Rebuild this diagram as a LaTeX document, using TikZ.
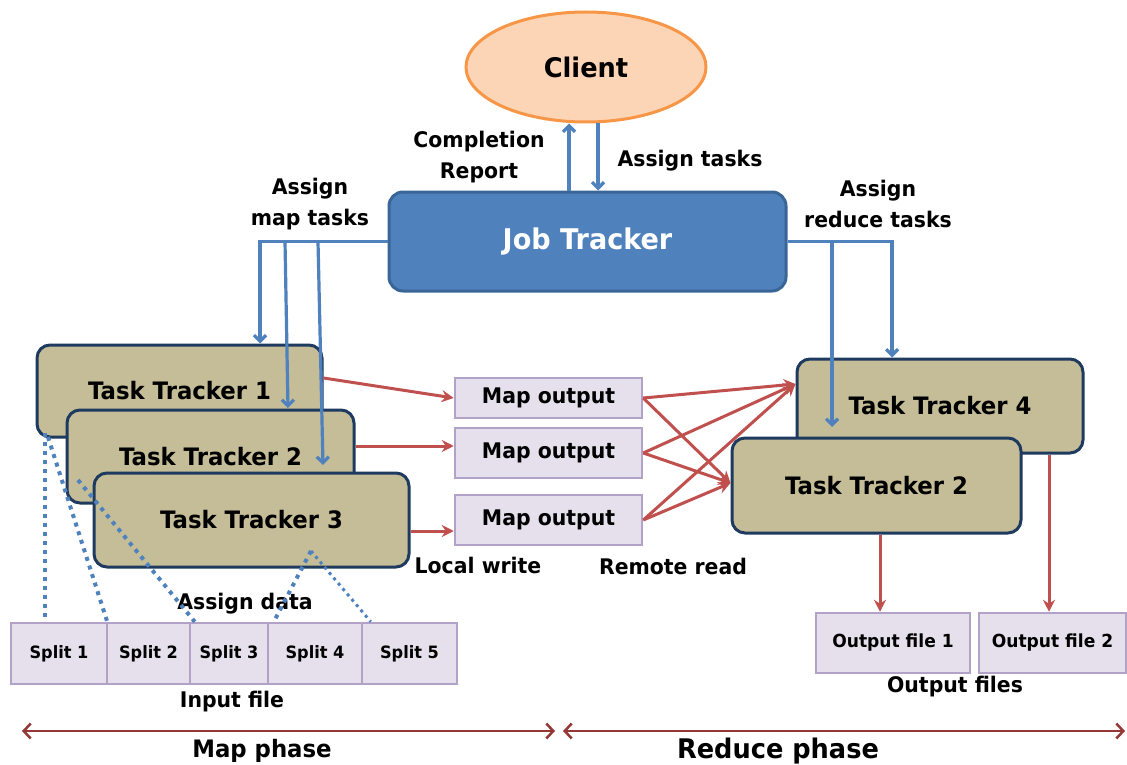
\documentclass[tikz,border=0pt]{standalone}
\usepackage{fontspec}
\setmainfont{DejaVu Sans}[FakeStretch=0.95]
\usetikzlibrary{arrows.meta,shapes.geometric}
\definecolor{cblue}{HTML}{4F81BD}
\definecolor{jtborder}{HTML}{3A6597}
\definecolor{ttfill}{HTML}{C4BD97}
\definecolor{ttborder}{HTML}{1F3A5F}
\definecolor{mofill}{HTML}{E6E0EC}
\definecolor{moborder}{HTML}{B3A2C7}
\definecolor{cred}{HTML}{C0504D}
\definecolor{phred}{HTML}{953735}
\definecolor{clfill}{HTML}{FBD5B5}
\definecolor{clborder}{HTML}{F79646}
\tikzset{
  lbl/.style={font=\bfseries\fontsize{21.5}{31}\selectfont, align=center, inner sep=0pt},
  client/.style={ellipse, draw=clborder, fill=clfill, line width=3pt, minimum width=240pt, minimum height=110pt, inner sep=0pt, font=\bfseries\fontsize{27}{30}\selectfont},
  jtbox/.style={draw=jtborder, fill=cblue, line width=3pt, rounded corners=14pt, minimum width=397pt, minimum height=99pt, inner sep=0pt, text=white, font=\bfseries\fontsize{28.5}{30}\selectfont},
  ttbox/.style={draw=ttborder, fill=ttfill, line width=3pt, rounded corners=13pt, inner sep=0pt, font=\bfseries\fontsize{24}{26}\selectfont},
  mobox/.style={draw=moborder, fill=mofill, line width=2.5pt, inner sep=0pt, minimum width=187pt, font=\bfseries\fontsize{21.5}{26}\selectfont},
  splitbox/.style={draw=moborder, fill=mofill, line width=2.5pt, inner sep=0pt, minimum height=61pt, font=\bfseries\fontsize{17}{20}\selectfont},
  outbox/.style={draw=moborder, fill=mofill, line width=2.5pt, inner sep=0pt, minimum height=60pt, font=\bfseries\fontsize{18}{20}\selectfont},
  barrow/.style={draw=cblue, line width=3.2pt, -{Straight Barb[length=6pt,width=12pt]}},
  rarrow/.style={draw=cred, line width=3pt, -{Stealth[length=12pt,width=12pt,inset=4pt]}},
  dotl/.style={draw=cblue, line width=4pt, dash pattern=on 4pt off 5pt},
  dotthin/.style={draw=cblue, line width=3pt, dash pattern=on 3pt off 4pt},
  phase/.style={draw=phred, line width=2.5pt, {Straight Barb[length=7pt,width=15pt]}-{Straight Barb[length=7pt,width=15pt]}}
}
\begin{document}
\begin{tikzpicture}[x=1pt,y=-1pt]
\useasboundingbox (0,0) rectangle (1127,765);

% main nodes
\node[client] (client) at (586,67) {Client};
\node[jtbox] (jt) at (587.5,241.5) {Job Tracker};

\node[ttbox, minimum width=285pt, minimum height=92pt] (tt1) at (179.5,391) {Task Tracker 1};
\node[ttbox, minimum width=287pt, minimum height=93pt] (tt2) at (210.5,456.5) {Task Tracker 2};
\node[ttbox, minimum width=315pt, minimum height=94pt] (tt3) at (251.5,520) {Task Tracker 3};
\node[ttbox, minimum width=286pt, minimum height=94pt] (tt4) at (940,406) {Task Tracker 4};
\node[ttbox, minimum width=289pt, minimum height=95pt] (tt2r) at (876.5,485.5) {Task Tracker 2};

\node[mobox, minimum height=40pt] (mo1) at (548.5,398) {Map output};
\node[mobox, minimum height=50pt] (mo2) at (548.5,453) {Map output};
\node[mobox, minimum height=50pt] (mo3) at (548.5,520) {Map output};

\node[splitbox, minimum width=96pt] (s1) at (59,653.5) {Split 1};
\node[splitbox, minimum width=83pt] (s2) at (148.5,653.5) {Split 2};
\node[splitbox, minimum width=78pt] (s3) at (229,653.5) {Split 3};
\node[splitbox, minimum width=94pt] (s4) at (315,653.5) {Split 4};
\node[splitbox, minimum width=95pt] (s5) at (409.5,653.5) {Split 5};

\node[outbox, minimum width=154pt] (of1) at (893,643) {Output file 1};
\node[outbox, minimum width=147pt] (of2) at (1052.5,643) {Output file 2};

% labels
\node[lbl] (lcomp) at (479,157) {Completion\\Report};
\node[lbl] (lassign) at (690,161) {Assign tasks};
\node[lbl] (lmap) at (310,204) {Assign\\map tasks};
\node[lbl] (lred) at (878,204) {Assign\\reduce tasks};
\node[lbl] (llw) at (478,565) {Local write};
\node[lbl] (lrr) at (673,566) {Remote read};
\node[lbl] (lad) at (245,604) {Assign data};
\node[lbl] (lin) at (232,702) {Input file};
\node[lbl] (lof) at (955,687) {Output files};
\node[lbl, font=\bfseries\fontsize{24}{26}\selectfont] (lmp) at (262,751) {Map phase};
\node[lbl, font=\bfseries\fontsize{27}{29}\selectfont] (lrp) at (778,751) {Reduce phase};

% client <-> job tracker
\draw[barrow] ([xshift=-18.5pt]jt.north) -- ([xshift=-17pt]client.south);
\draw[barrow] ([xshift=12pt]client.south) -- ([xshift=10.5pt]jt.north);

% assign map tasks
\coordinate (mL1) at (260,241.5);
\coordinate (mL2) at (285,241.5);
\coordinate (mL2e) at (288,408);
\coordinate (mL3) at (318,241.5);
\coordinate (mL3e) at (323,465);
\draw[barrow] (jt.west) -- (mL1) -- (mL1 |- tt1.north);
\draw[barrow] (mL2) -- (mL2e);
\draw[barrow] (mL3) -- (mL3e);

% assign reduce tasks
\coordinate (rR1) at (832,241.5);
\coordinate (rR1e) at (832,427);
\coordinate (rR2) at (892,241.5);
\draw[barrow] (jt.east) -- (rR2) -- (rR2 |- tt4.north);
\draw[barrow] (rR1) -- (rR1e);

% local write
\draw[rarrow] ([yshift=13pt]tt1.east) -- (mo1.west);
\draw[rarrow] ([yshift=10.5pt]tt2.east) -- ([yshift=7pt]mo2.west);
\draw[rarrow] ([yshift=-11pt]tt3.east) -- ([yshift=-11pt]mo3.west);

% remote read
\foreach \m in {mo1,mo2,mo3}{
  \draw[rarrow] (\m.east) -- ([yshift=22pt]tt4.west);
  \draw[rarrow] (\m.east) -- ([yshift=2.5pt]tt2r.west);
}

% output files
\draw[rarrow] ([xshift=3.5pt]tt2r.south) -- ([xshift=3.5pt]tt2r.south |- of1.north);
\draw[rarrow] ([xshift=109pt]tt4.south) -- ([xshift=109pt]tt4.south |- of2.north);

% assign data (dotted)
\coordinate (d1s) at (45,433);
\coordinate (d2s) at (48,437);
\coordinate (d3s) at (78,480);
\coordinate (d4s) at (311,551);
\draw[dotl] (d1s) -- (d1s |- s1.north);
\draw[dotl] (d2s) -- ([xshift=-1pt]s1.north east);
\draw[dotl] (d3s) -- ([xshift=6pt]s3.north west);
\draw[dotl] (d4s) -- ([xshift=7pt]s4.north west);
\draw[dotthin] (d4s) -- ([xshift=10pt]s5.north west);

% phases
\coordinate (mpa) at (22,731);
\coordinate (mpb) at (555,731);
\coordinate (rpa) at (563,731);
\coordinate (rpb) at (1125,731);
\draw[phase] (mpa) -- (mpb);
\draw[phase] (rpa) -- (rpb);
\end{tikzpicture}
\end{document}
